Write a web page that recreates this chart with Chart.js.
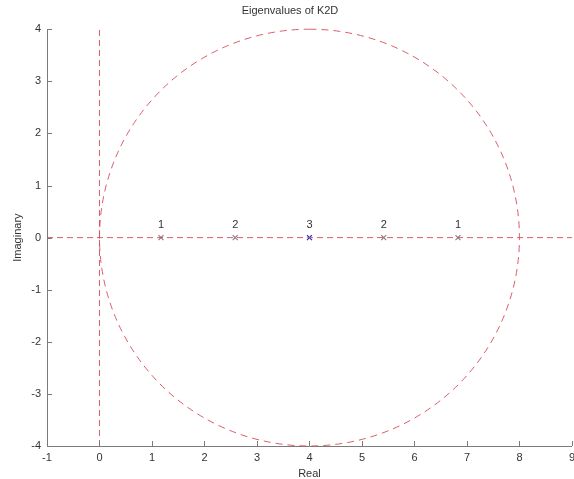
<!DOCTYPE html>
<html>
<head>
<meta charset="utf-8">
<script src="https://cdn.jsdelivr.net/npm/chart.js@4"></script>
<style>
  html, body { margin: 0; padding: 0; background: #fff; overflow: hidden; }
  #wrap { width: 574px; height: 479px; overflow: hidden; }
</style>
</head>
<body>
<div id="wrap"><canvas id="c" width="580" height="479"></canvas></div>
<script>
// Eigenvalues of the 2D Laplacian K2D (3x3 grid) on the real axis
const chartTitle = 'Eigenvalues of K2D';
const eigenReal = [1.1716, 2.5858, 4.0, 5.4142, 6.8284];
const eigenImag = [0, 0, 0, 0, 0];
const multiplicity = [1, 2, 3, 2, 1];
const markerColors = ['#8c7c8c', '#8c7c8c', '#2a2ab8', '#8c7c8c', '#8c7c8c'];

// Gershgorin-type disc: center and radius
const discCenter = [4, 0];
const discRadius = [4];

// Reference axes through the origin
const vLineX = [0, 0];
const vLineY = [-4, 4];
const hLineX = [-1, 9];
const hLineY = [0, 0];

const xRange = [-1, 9];
const yRange = [-4, 4];

const dashRed = 'rgba(212,78,90,0.9)';
const axisGray = '#7a7a7a';
const FONT = '"Liberation Sans", Arial, Helvetica, sans-serif';

const discPlugin = {
  id: 'disc',
  beforeDatasetsDraw(chart) {
    const { ctx, scales: { x, y } } = chart;
    const cx = x.getPixelForValue(discCenter[0]);
    const cy = y.getPixelForValue(discCenter[1]);
    const rx = Math.abs(x.getPixelForValue(discCenter[0] + discRadius[0]) - cx);
    const ry = Math.abs(y.getPixelForValue(discCenter[1] + discRadius[0]) - cy);
    ctx.save();
    ctx.strokeStyle = dashRed;
    ctx.lineWidth = 1;
    ctx.setLineDash([7, 5]);
    ctx.beginPath();
    ctx.ellipse(cx, cy, rx, ry, 0, -Math.PI / 2, 1.5 * Math.PI);
    ctx.stroke();
    ctx.restore();
  }
};

const innerTicks = {
  id: 'innerTicks',
  afterDraw(chart) {
    const { ctx, scales: { x, y }, chartArea: a } = chart;
    ctx.save();
    ctx.strokeStyle = axisGray;
    ctx.lineWidth = 1;
    ctx.beginPath();
    x.ticks.forEach(t => {
      const px = Math.round(x.getPixelForValue(t.value)) + 0.5;
      ctx.moveTo(px, a.bottom);
      ctx.lineTo(px, a.bottom - 5);
    });
    y.ticks.forEach(t => {
      const py = Math.round(y.getPixelForValue(t.value)) + 0.5;
      ctx.moveTo(a.left, py);
      ctx.lineTo(a.left + 5, py);
    });
    ctx.stroke();
    ctx.restore();
  }
};

const multLabels = {
  id: 'multLabels',
  afterDatasetsDraw(chart) {
    const { ctx } = chart;
    const meta = chart.getDatasetMeta(2);
    ctx.save();
    ctx.fillStyle = '#333';
    ctx.font = '11px ' + FONT;
    ctx.textAlign = 'center';
    ctx.textBaseline = 'alphabetic';
    meta.data.forEach((pt, i) => {
      ctx.fillText(String(multiplicity[i]), pt.x, pt.y - 10);
    });
    ctx.restore();
  }
};

new Chart(document.getElementById('c'), {
  type: 'scatter',
  data: {
    datasets: [
      {
        type: 'line',
        data: vLineX.map((v, i) => ({ x: v, y: vLineY[i] })),
        borderColor: dashRed, borderWidth: 1, borderDash: [6, 4],
        pointRadius: 0, fill: false
      },
      {
        type: 'line',
        data: hLineX.map((v, i) => ({ x: v, y: hLineY[i] })),
        borderColor: dashRed, borderWidth: 1, borderDash: [6, 4],
        pointRadius: 0, fill: false
      },
      {
        data: eigenReal.map((v, i) => ({ x: v, y: eigenImag[i] })),
        pointStyle: 'crossRot',
        pointRadius: 3.5,
        pointBorderWidth: 1.2,
        borderColor: markerColors,
        backgroundColor: markerColors
      }
    ]
  },
  options: {
    responsive: false,
    animation: false,
    layout: { padding: { left: 0, right: 0, top: 0, bottom: 0 } },
    plugins: {
      legend: { display: false },
      tooltip: { enabled: false },
      title: {
        display: true,
        text: chartTitle,
        color: '#333',
        font: { family: FONT, size: 11, weight: 'normal' },
        padding: { top: 4, bottom: 12 }
      }
    },
    scales: {
      x: {
        type: 'linear',
        min: xRange[0], max: xRange[1],
        ticks: {
          stepSize: 1, color: '#333', padding: 5, maxRotation: 0,
          font: { family: FONT, size: 11 }
        },
        grid: { display: false, drawTicks: false },
        border: { display: true, color: axisGray, width: 1 },
        title: {
          display: true, text: 'Real', color: '#333',
          font: { family: FONT, size: 11 },
          padding: { top: 0, bottom: -2 }
        },
        afterFit(s) { s.height = 33; }
      },
      y: {
        type: 'linear',
        min: yRange[0], max: yRange[1],
        ticks: {
          stepSize: 1, color: '#333', padding: 6,
          font: { family: FONT, size: 11 }
        },
        grid: { display: false, drawTicks: false },
        border: { display: true, color: axisGray, width: 1 },
        title: {
          display: true, text: 'Imaginary', color: '#333',
          font: { family: FONT, size: 11 },
          padding: { top: 11, bottom: 0 }
        },
        afterFit(s) { s.width = 47; }
      }
    }
  },
  plugins: [discPlugin, innerTicks, multLabels]
});
</script>
</body>
</html>
